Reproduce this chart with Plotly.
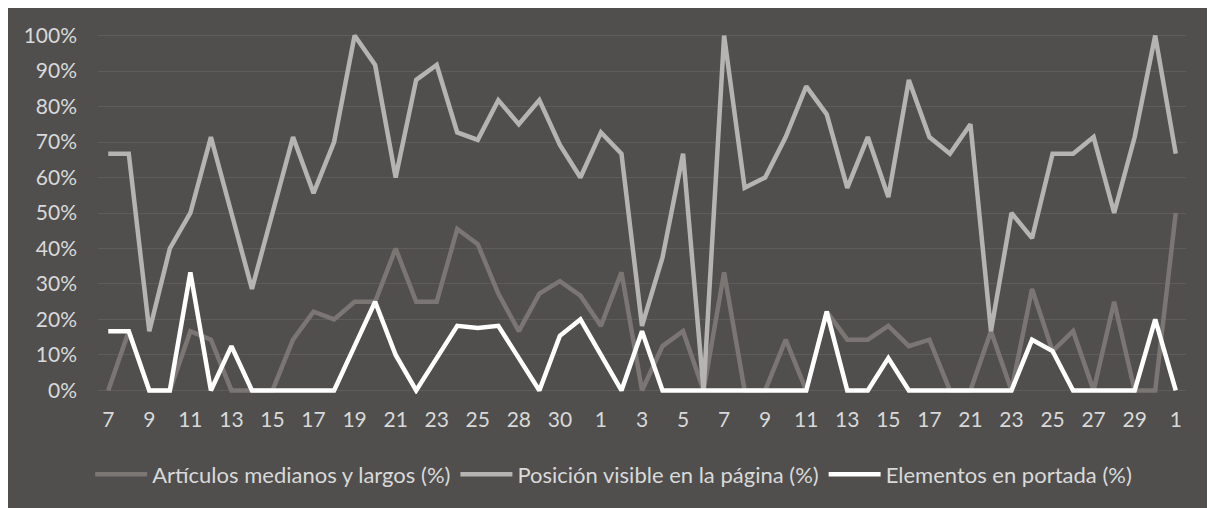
import plotly.graph_objects as go

days = ["7","8","9","10","11","12","13","14","15","16","17","18","19","20","21","22","23","24","25","26",
        "28","29","30","31","1","2","3","4","5","6","7","8","9","10","11","12","13","14","15","16",
        "17","18","21","22","23","24","25","26","27","28","29","30","1"]

articulos = [0, 16.7, 0, 0, 16.7, 14.3, 0, 0, 0, 14.3, 22.2, 20, 25, 25, 40, 25, 25, 45.5, 41.2, 27.3,
             16.7, 27.3, 30.8, 26.7, 18.2, 33.3, 0, 12.5, 16.7, 0, 33.3, 0, 0, 14.3, 0, 22.2, 14.3, 14.3, 18.2, 12.5,
             14.3, 0, 0, 16.7, 0, 28.6, 11.1, 16.7, 0, 25, 0, 0, 50]

posicion = [66.7, 66.7, 16.7, 40, 50, 71.4, 50, 28.6, 50, 71.4, 55.6, 70, 100, 91.7, 60, 87.5, 91.7, 72.7, 70.6, 81.8,
            75, 81.8, 69.2, 60, 72.7, 66.7, 18.2, 37.5, 66.7, 0, 100, 57.1, 60, 71.4, 85.7, 77.8, 57.1, 71.4, 54.5, 87.5,
            71.4, 66.7, 75, 16.7, 50, 42.9, 66.7, 66.7, 71.4, 50, 71.4, 100, 66.7]

portada = [16.7, 16.7, 0, 0, 33.3, 0, 12.5, 0, 0, 0, 0, 0, 12.5, 25, 10, 0, 9.1, 18.2, 17.6, 18.2,
           9.1, 0, 15.4, 20, 10, 0, 16.7, 0, 0, 0, 0, 0, 0, 0, 0, 22.2, 0, 0, 9.1, 0,
           0, 0, 0, 0, 0, 14.3, 11.1, 0, 0, 0, 0, 20, 0]

series = [
    ("Artículos medianos y largos (%)", articulos, "#7b7674"),
    ("Posición visible en la página (%)", posicion, "#b5b4b2"),
    ("Elementos en portada (%)", portada, "#ffffff"),
]

x = list(range(len(days)))
BG = "#504f4d"
FONT = "Lato"
TXT = "#d9d9d9"

fig = go.Figure()
for name, vals, col in series:
    fig.add_trace(go.Scatter(
        x=x, y=[v / 100 for v in vals], mode="lines", name=name,
        line=dict(color=col, width=4.5),
    ))

fig.update_layout(
    width=1207, height=500,
    paper_bgcolor=BG, plot_bgcolor=BG,
    margin=dict(l=90, r=29, t=24, b=114),
    font=dict(family=FONT, size=21, color=TXT),
    showlegend=True,
    legend=dict(orientation="h", x=0.474, xanchor="center", y=-0.222, yanchor="middle",
                font=dict(family=FONT, size=22, color=TXT), bgcolor="rgba(0,0,0,0)",
                itemwidth=52, traceorder="normal"),
    xaxis=dict(range=[-0.5, len(days) - 0.5], tickmode="array", tickvals=x[::2], ticktext=days[::2],
               showgrid=False, zeroline=False, showline=False, ticks="", ticklabelstandoff=11,
               tickfont=dict(family=FONT, size=21, color=TXT)),
    yaxis=dict(range=[-0.01, 1.01], tickmode="array", tickvals=[i / 10 for i in range(11)],
               tickformat=".0%", showgrid=True, gridcolor="#5f5d5b", gridwidth=1,
               zeroline=False, showline=False, ticks="", ticklabelstandoff=20,
               tickfont=dict(family=FONT, size=21, color=TXT)),
)

fig.write_html("out.html")
